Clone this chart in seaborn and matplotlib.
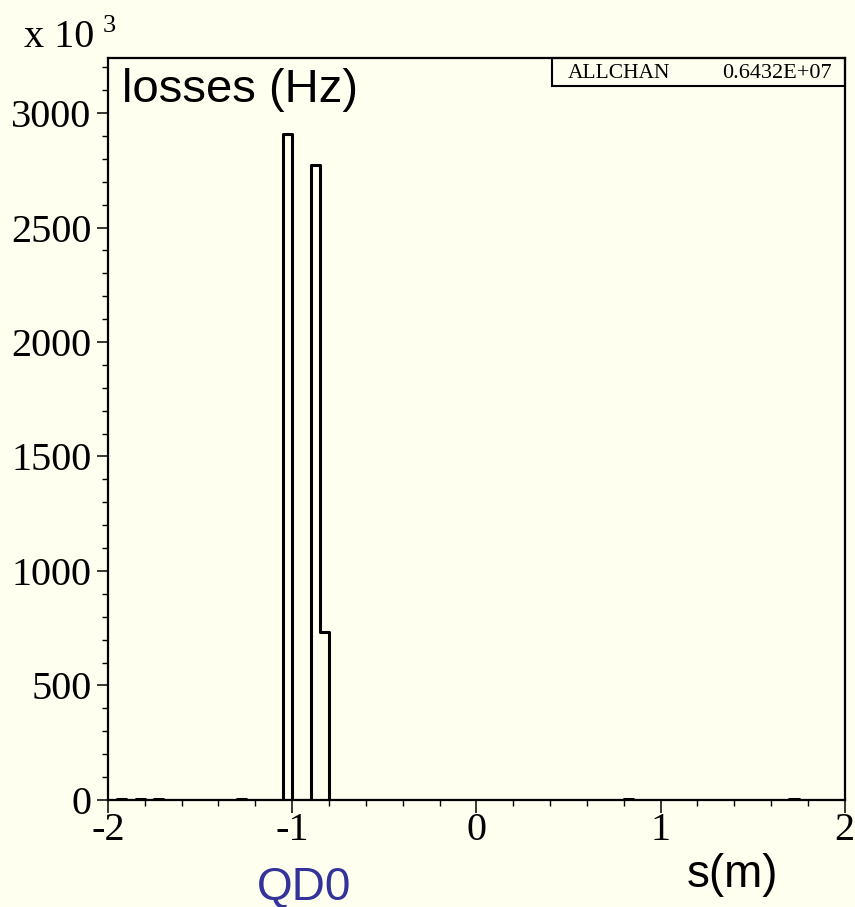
import numpy as np
import pandas as pd
import matplotlib
matplotlib.use("Agg")
import matplotlib.pyplot as plt
from matplotlib.ticker import MultipleLocator
import seaborn as sns

# Losses per bin along s (values in units of 10^3 Hz)
bin_centers = [-1.925, -1.825, -1.725, -1.275, -1.025, -0.875, -0.825, 0.825, 1.725]
losses_khz = [6, 6, 6, 6, 2910, 2775, 735, 6, 6]
bin_width = 0.05

x_ticks = [-2, -1, 0, 1, 2]
y_ticks = [0, 500, 1000, 1500, 2000, 2500, 3000]

df = pd.DataFrame({"s": bin_centers, "losses": losses_khz})

bg = "#fffff0"
sns.set_style("ticks")
plt.rcParams["font.family"] = ["Liberation Serif", "DejaVu Serif"]
plt.rcParams["text.color"] = "black"
plt.rcParams["axes.edgecolor"] = "black"
plt.rcParams["xtick.color"] = "black"
plt.rcParams["ytick.color"] = "black"

fig = plt.figure(figsize=(8.55, 9.07), dpi=100, facecolor=bg)
ax = fig.add_axes([0.1263, 0.118, 0.988 - 0.1263, 0.936 - 0.118])
ax.set_facecolor(bg)

sns.histplot(data=df, x="s", weights="losses", binwidth=bin_width, binrange=(-2, 2),
             element="step", fill=False, color="black", linewidth=2.2, ax=ax)

ax.set_xlim(-2, 2)
ax.set_ylim(0, 3240)
ax.set_xticks(x_ticks)
ax.set_yticks(y_ticks)
ax.set_xticklabels([str(t) for t in x_ticks])
ax.set_yticklabels([str(t) for t in y_ticks])
ax.xaxis.set_minor_locator(MultipleLocator(0.2))
ax.yaxis.set_minor_locator(MultipleLocator(100))
ax.tick_params(axis="both", which="major", direction="out", length=9, width=1.1,
               labelsize=29, labelcolor="black")
ax.tick_params(axis="y", which="major", length=8, pad=4)
ax.tick_params(axis="x", which="major", pad=0)
ax.tick_params(axis="both", which="minor", direction="out", length=4.5, width=1.0)
ax.tick_params(top=False, right=False)
for sp in ax.spines.values():
    sp.set_visible(True)
    sp.set_linewidth(1.6)
    sp.set_color("black")
ax.set_xlabel("")
ax.set_ylabel("")

# Labels
sans = ["Liberation Sans", "DejaVu Sans"]
fig.text(0.028, 0.948, "x 10", fontsize=29, ha="left", va="baseline")
fig.text(0.120, 0.965, "3", fontsize=19, ha="left", va="baseline")
ax.text(0.019, 0.9407, "losses (Hz)", transform=ax.transAxes, fontsize=34,
        family=sans, ha="left", va="baseline")
fig.text(0.803, 0.022, "s(m)", fontsize=33, family=sans, ha="left", va="baseline")
fig.text(0.300, 0.0077, "QD0", fontsize=33, color="#33339a", family=sans,
         ha="left", va="baseline")

# Statistics box
box_left = (552 - 108) / (845 - 108)
ax.add_patch(plt.Rectangle((box_left, 0.962), 1 - box_left, 0.038, transform=ax.transAxes,
                           fill=False, edgecolor="black", linewidth=1.5, clip_on=False))
ax.text(box_left + 0.021, 0.973, "ALLCHAN", transform=ax.transAxes, fontsize=15.5,
        ha="left", va="baseline")
ax.text(0.983, 0.973, "0.6432E+07", transform=ax.transAxes, fontsize=16,
        ha="right", va="baseline")

fig.savefig("out.png", dpi=100, facecolor=bg)
